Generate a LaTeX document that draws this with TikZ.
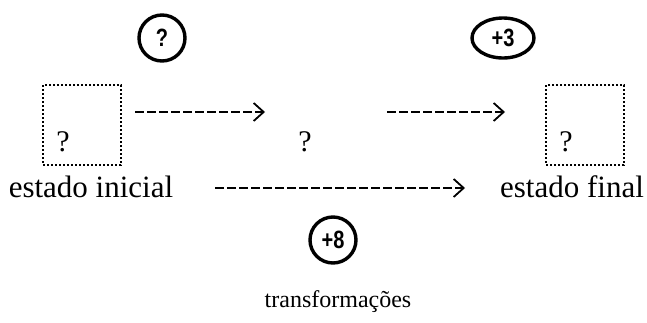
\documentclass[tikz,border=0pt]{standalone}
\usepackage{fontspec}
\setmainfont{Liberation Serif}
\newfontfamily\circfont[FakeStretch=0.8]{Liberation Sans}
\usetikzlibrary{shapes.geometric, arrows.meta, positioning}

\begin{document}
\begin{tikzpicture}[x=0.5pt, y=-0.5pt]
            \tikzstyle{statebox} = [rectangle, draw, densely dotted, line width=1pt, minimum width=39pt, minimum height=40pt, inner sep=0pt]
            \tikzstyle{opcircle} = [ellipse, draw, line width=1.7pt, inner sep=0pt, font=\circfont\bfseries\fontsize{12.5}{12.5}\selectfont]
            \tikzstyle{qmark} = [inner sep=0pt, font=\fontsize{15}{15}\selectfont]
            \tikzstyle{caption} = [inner sep=0pt, anchor=base, font=\fontsize{15.5}{16}\selectfont]
            \tikzstyle{arrow} = [line width=1.2pt, dash pattern=on 4.5pt off 1.5pt, -{Straight Barb[length=5pt, width=9pt, line width=0.9pt]}]
            \useasboundingbox (0,0) rectangle (647,322);

            \node[statebox] (ini) at (82,125) {};
            \node[qmark] (iniq) at (63,142) {?};
            \node[caption] (initxt) at (91,197) {estado inicial};

            \node[statebox] (fin) at (585,125) {};
            \node[qmark] (finq) at (566,142) {?};
            \node[caption] (fintxt) at (572,197) {estado final};

            \node[qmark] (midq) at (305,142) {?};

            \node[opcircle, minimum width=23pt, minimum height=23pt] (op1) at (162,38) {?};
            \node[opcircle, minimum width=31pt, minimum height=20pt] (op2) at (503,38) {+3};
            \node[opcircle, minimum width=23pt, minimum height=23pt] (op3) at (333,240) {+8};
            \node[inner sep=0pt, font=\fontsize{12}{12}\selectfont] (transf) at (338,302) {transformações};

            \coordinate (a1s) at (135,112);
            \coordinate (a1e) at (265,112);
            \coordinate (a2s) at (387,112);
            \coordinate (a2e) at (505,112);
            \coordinate (a3s) at (215,188);
            \coordinate (a3e) at (465,188);

            \draw[arrow] (a1s) -- (a1e);
            \draw[arrow] (a2s) -- (a2e);
            \draw[arrow] (a3s) -- (a3e);
        \end{tikzpicture}
\end{document}
